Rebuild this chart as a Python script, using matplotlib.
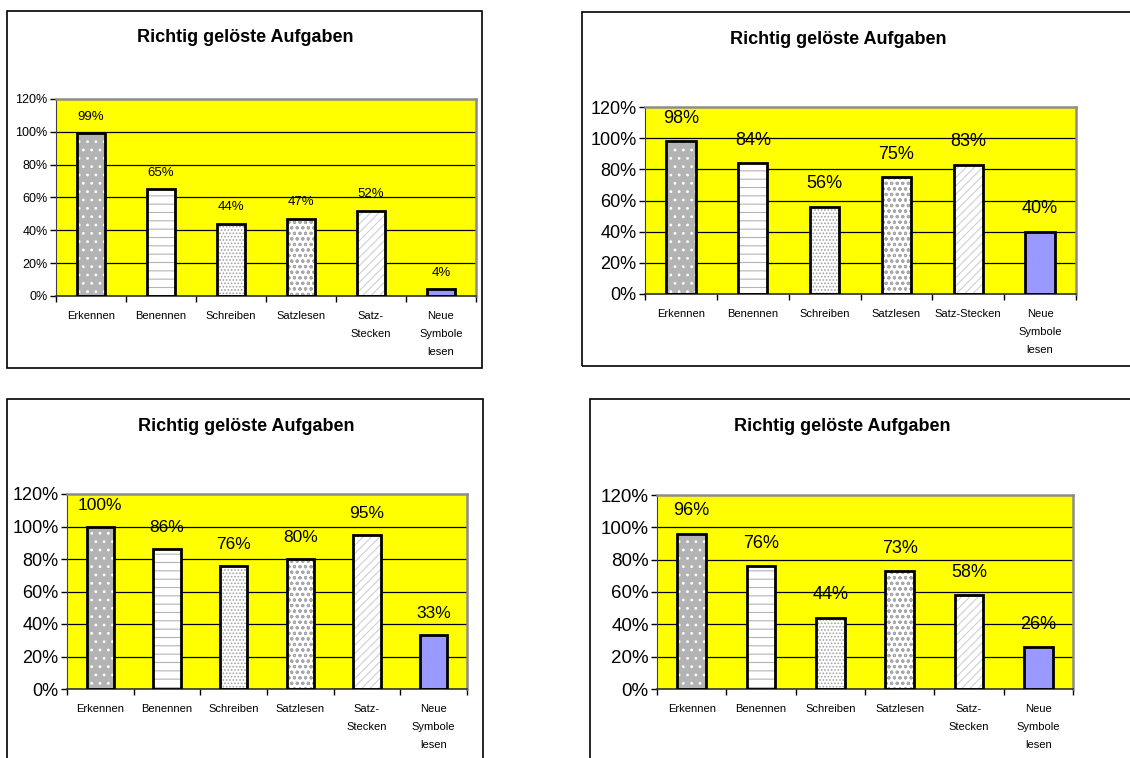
import matplotlib
matplotlib.use('Agg')
import matplotlib.pyplot as plt
from matplotlib.patches import Rectangle

plt.rcParams['font.family'] = ['Liberation Sans', 'DejaVu Sans']
plt.rcParams['hatch.linewidth'] = 0.8

title = 'Richtig gelöste Aufgaben'

cats_a = ['Erkennen', 'Benennen', 'Schreiben', 'Satzlesen', 'Satz-\nStecken', 'Neue\nSymbole\nlesen']
cats_b = ['Erkennen', 'Benennen', 'Schreiben', 'Satzlesen', 'Satz-Stecken', 'Neue\nSymbole\nlesen']

vals_1 = [99, 65, 44, 47, 52, 4]
vals_2 = [98, 84, 56, 75, 83, 40]
vals_3 = [100, 86, 76, 80, 95, 33]
vals_4 = [96, 76, 44, 73, 58, 26]

yticks = [0, 20, 40, 60, 80, 100, 120]

# fill colour, hatch, hatch colour per bar
fills = ['#b3b3b3', 'white', 'white', 'white', 'white', '#9999ff']
hatches = ['..', '--', '.....', 'ooo', '////', '']
hatch_cols = ['white', '#b4b4b4', '#a0a0a0', '#a8a8a8', '#cfcfcf', '#9999ff']

W, H = 1130, 758
fig = plt.figure(figsize=(W / 100, H / 100), dpi=100)


def box(x0, y0, x1, y1):
    fig.patches.append(Rectangle((x0 / W, 1 - y1 / H), (x1 - x0) / W, (y1 - y0) / H,
                                 transform=fig.transFigure, fill=False,
                                 edgecolor='black', linewidth=1.2))


def panel(px, cats, vals, tick_fs, val_fs, title_xy):
    x0, yt, x1, yb = px
    ax = fig.add_axes([x0 / W, 1 - yb / H, (x1 - x0) / W, (yb - yt) / H])
    ax.set_facecolor('#ffff00')
    pos = list(range(len(cats)))
    ax.set_xlim(-0.5, len(cats) - 0.5)
    ax.set_ylim(0, 120)
    for y in yticks[1:-1]:
        ax.axhline(y, color='black', linewidth=0.9, zorder=1)
    ax.bar(pos, vals, width=0.41, color=fills, hatch=hatches, edgecolor=hatch_cols,
           linewidth=0, zorder=2)
    ax.bar(pos, vals, width=0.41, fill=False, edgecolor='black', linewidth=2, zorder=3)
    for p, v in zip(pos, vals):
        ax.annotate(f'{v}%', (p, v), xytext=(0, val_fs * 0.8), textcoords='offset points',
                    ha='center', va='bottom', fontsize=val_fs)
    ax.set_yticks(yticks)
    ax.set_yticklabels([f'{t}%' for t in yticks], fontsize=tick_fs)
    ax.tick_params(axis='y', length=4, width=1, pad=2)
    ax.set_xticks(pos)
    ax.set_xticklabels(cats, fontsize=8, linespacing=2.0, va='top')
    ax.set_xticks([p - 0.5 for p in pos] + [len(cats) - 0.5], minor=True)
    ax.tick_params(axis='x', which='major', length=0, pad=11)
    ax.tick_params(axis='x', which='minor', length=4, width=1)
    for s in ['top', 'right']:
        ax.spines[s].set_color('#8c8c8c')
        ax.spines[s].set_linewidth(1.8)
    ax.spines['left'].set_color('#404040')
    ax.spines['bottom'].set_color('#303030')
    ax.spines['bottom'].set_linewidth(1.2)
    fig.text(title_xy[0] / W, 1 - title_xy[1] / H, title, ha='center', va='center',
             fontsize=13, fontweight='bold')
    return ax


box(7, 11, 482, 368)
box(582, 12, 1160, 366)
box(7, 399, 483, 790)
box(590, 399, 1160, 790)

panel((56, 99, 476, 296), cats_a, vals_1, 9, 9.5, (245, 37))
panel((645, 107, 1076, 294), cats_b, vals_2, 13, 13, (838, 39))
panel((67, 494, 467, 689), cats_a, vals_3, 13, 12.5, (246, 426))
panel((657, 495, 1073, 689), cats_a, vals_4, 13.5, 13, (842, 426))

fig.savefig('out.png', dpi=100, facecolor='white')
